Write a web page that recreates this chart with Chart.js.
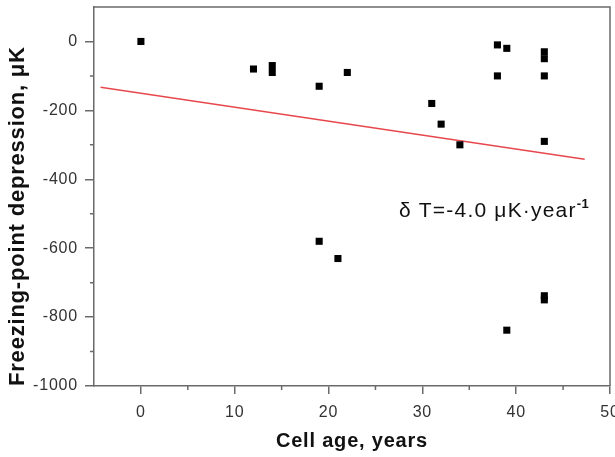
<!DOCTYPE html>
<html>
<head>
<meta charset="utf-8">
<script src="https://cdn.jsdelivr.net/npm/chart.js@4/dist/chart.umd.min.js"></script>
<style>
  html, body { margin: 0; padding: 0; background: #fff; }
  #wrap { width: 615px; height: 457px; }
</style>
</head>
<body>
<div id="wrap"><canvas id="chart"></canvas></div>
<script>
// cell age (years) and freezing-point depression (μK)
var ages = [0, 12, 14, 14, 19, 22, 31, 32, 34, 38, 39, 38, 43, 43, 43, 43, 19, 21, 43, 43, 39]
var depression = [0, -80, -70, -90, -130, -90, -180, -240, -300, -10, -20, -100, -30, -50, -100, -290, -580, -630, -738, -750, -838]

// fitted line end points
var fitX = [-4.3, 47.3]
var fitY = [-133, -342]

// tick labels
var xTicks = [0, 10, 20, 30, 40, 50]
var yTicks = [-1000, -800, -600, -400, -200, 0]
var xMinor = [5, 15, 25, 35, 45]
var yMinor = [-900, -700, -500, -300, -100]

var noteText = 'δ T=-4.0 μK·year'
var noteSup = '-1'
var noteX = 27.5
var noteY = -509

var points = []
for (var i = 0; i < ages.length; i++) {
  points.push({ x: ages[i], y: depression[i] })
}
var fit = []
for (var j = 0; j < fitX.length; j++) {
  fit.push({ x: fitX[j], y: fitY[j] })
}

var axisColor = '#6a6a6a'
var font = "'Liberation Sans', Arial, sans-serif"

// the original lettering is a bit stretched, widen it a little
var spacing = {
  id: 'spacing',
  beforeUpdate: function (chart) { chart.ctx.letterSpacing = '0.8px' },
  beforeDraw: function (chart) { chart.ctx.letterSpacing = '0.8px' }
}

// frame, minor ticks and the slope note
var extras = {
  id: 'extras',
  afterDraw: function (chart) {
    var ctx = chart.ctx
    var a = chart.chartArea
    var xs = chart.scales.x
    var ys = chart.scales.y
    ctx.save()
    ctx.strokeStyle = axisColor
    ctx.lineWidth = 1.5
    ctx.beginPath()
    ctx.moveTo(a.left, a.top)
    ctx.lineTo(a.right, a.top)
    ctx.lineTo(a.right, a.bottom)
    ctx.stroke()

    ctx.beginPath()
    xMinor.forEach(function (v) {
      var px = xs.getPixelForValue(v)
      ctx.moveTo(px, a.bottom)
      ctx.lineTo(px, a.bottom + 4)
    })
    yMinor.forEach(function (v) {
      var py = ys.getPixelForValue(v)
      ctx.moveTo(a.left, py)
      ctx.lineTo(a.left - 4, py)
    })
    ctx.stroke()

    var tx = xs.getPixelForValue(noteX)
    var ty = ys.getPixelForValue(noteY)
    ctx.fillStyle = '#111'
    ctx.textBaseline = 'alphabetic'
    ctx.letterSpacing = '1.2px'
    ctx.font = '21px ' + font
    ctx.fillText(noteText, tx, ty)
    var w = ctx.measureText(noteText).width
    ctx.font = 'bold 13px ' + font
    ctx.letterSpacing = '0.5px'
    ctx.fillText(noteSup, tx + w, ty - 9)
    ctx.restore()
  }
}

var chart = new Chart(document.getElementById('chart'), {
  type: 'scatter',
  data: {
    datasets: [
      {
        data: points,
        pointStyle: 'rect',
        pointRadius: 5,
        pointBorderWidth: 0,
        backgroundColor: '#000',
        borderColor: '#000'
      },
      {
        type: 'line',
        data: fit,
        borderColor: '#e8474b',
        borderWidth: 1.4,
        pointRadius: 0,
        fill: false
      }
    ]
  },
  options: {
    responsive: true,
    maintainAspectRatio: false,
    animation: false,
    layout: { padding: { top: 7, right: 5, left: 0, bottom: 0 } },
    plugins: { legend: { display: false }, tooltip: { enabled: false } },
    scales: {
      x: {
        type: 'linear',
        min: -5,
        max: 50,
        afterBuildTicks: function (scale) {
          scale.ticks = xTicks.map(function (v) { return { value: v } })
        },
        afterFit: function (scale) {
          scale.height = 71
          scale.paddingLeft = 0
          scale.paddingRight = 0
        },
        border: { color: axisColor, width: 1.5 },
        grid: { drawOnChartArea: false, color: axisColor, lineWidth: 1.5, tickLength: 8 },
        ticks: {
          autoSkip: false,
          maxRotation: 0,
          padding: 9,
          color: '#333',
          font: { family: font, size: 16 },
          callback: function (v) { return String(v) }
        },
        title: {
          display: true,
          text: 'Cell age, years',
          color: '#111',
          padding: { top: 0, bottom: 4 },
          font: { family: font, size: 20, weight: 'bold' }
        }
      },
      y: {
        type: 'linear',
        min: -1000,
        max: 100,
        afterBuildTicks: function (scale) {
          scale.ticks = yTicks.map(function (v) { return { value: v } })
        },
        afterFit: function (scale) {
          scale.width = 94
          scale.paddingTop = 0
          scale.paddingBottom = 0
        },
        border: { color: axisColor, width: 1.5 },
        grid: { drawOnChartArea: false, color: axisColor, lineWidth: 1.5, tickLength: 9 },
        ticks: {
          autoSkip: false,
          padding: 7,
          color: '#333',
          font: { family: font, size: 16 },
          callback: function (v) { return String(v) }
        },
        title: {
          display: true,
          text: 'Freezing-point depression, μK',
          align: 'start',
          color: '#111',
          padding: { top: 5, bottom: 0 },
          font: { family: font, size: 22, weight: 'bold' }
        }
      }
    }
  },
  plugins: [spacing, extras]
})
</script>
</body>
</html>
